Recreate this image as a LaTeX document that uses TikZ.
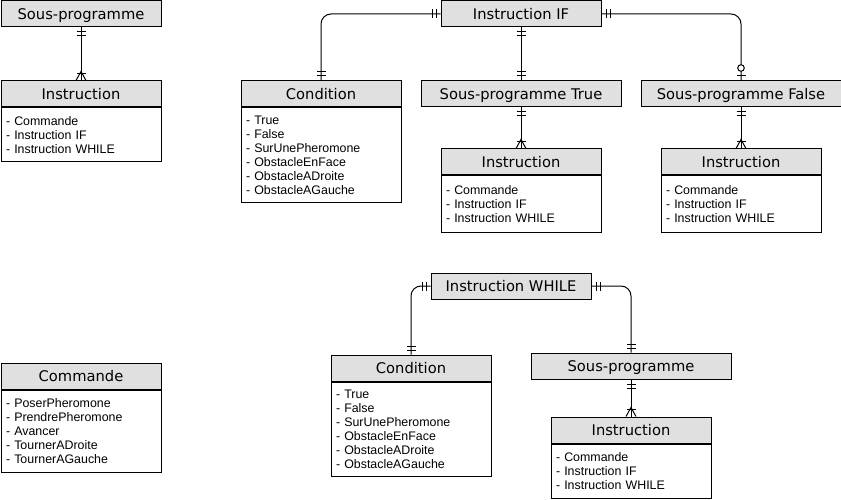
\documentclass[tikz,border=0pt]{standalone}
\usepackage{fontspec}
\setmainfont{Liberation Sans}
\newfontfamily\hdrfont{DejaVu Sans}
\usetikzlibrary{calc}
\definecolor{hdrgray}{HTML}{E0E0E0}
\newcommand\ERtwo[2]{%
 \draw[ermark] ($(#1)+(#2:4.5)+(#2+90:4.5)$) -- ($(#1)+(#2:4.5)+(#2-90:4.5)$);
 \draw[ermark] ($(#1)+(#2:8.5)+(#2+90:4.5)$) -- ($(#1)+(#2:8.5)+(#2-90:4.5)$);}
\newcommand\ERmany[2]{%
 \draw[ermark] ($(#1)+(#2+90:5)$) -- ($(#1)+(#2:9)$) -- ($(#1)+(#2-90:5)$);
 \draw[ermark] ($(#1)+(#2:7)+(#2+90:4.5)$) -- ($(#1)+(#2:7)+(#2-90:4.5)$);}
\newcommand\ERzo[2]{%
 \draw[ermark] ($(#1)+(#2:4.5)+(#2+90:4.5)$) -- ($(#1)+(#2:4.5)+(#2-90:4.5)$);
 \draw[ermark, fill=white] ($(#1)+(#2:12.5)$) circle[radius=3.3pt];}
\begin{document}
\begin{tikzpicture}[x=1pt,y=-1pt,
  hdr/.style={draw=black, line width=1pt, fill=hdrgray, minimum width=160pt, minimum height=26pt,
    anchor=north west, inner sep=0pt, text height=10.7pt, text depth=0pt,
    font=\hdrfont\fontsize{14.7}{17}\selectfont},
  wide/.style={minimum width=200pt},
  bodybox/.style={draw=black, line width=1pt, fill=white, anchor=north west, minimum width=160pt,
    text width=150pt, inner xsep=5pt, inner ysep=0pt, align=left,
    font=\fontsize{12.4}{14}\selectfont},
  conn/.style={line width=1pt},
  ermark/.style={line width=1pt}]
\useasboundingbox (0,0) rectangle (841,500);

% top-left
\node[hdr] (spA) at (0.5,0.5) {Sous-programme};
\node[hdr] (inA) at (0.5,80.5) {Instruction};
\node[bodybox, minimum height=54pt] (inAb) at (inA.south west) {- Commande\\- Instruction IF\\- Instruction WHILE};

% IF block
\node[hdr] (ifH) at (440.5,0.5) {Instruction IF};
\node[hdr] (cdA) at (240.5,80.5) {Condition};
\node[bodybox, minimum height=94pt] (cdAb) at (cdA.south west) {- True\\- False\\- SurUnePheromone\\- ObstacleEnFace\\- ObstacleADroite\\- ObstacleAGauche};
\node[hdr, wide] (spT) at (420.5,80.5) {Sous-programme True};
\node[hdr, wide] (spF) at (640.5,80.5) {Sous-programme False};
\node[hdr] (inT) at (440.5,148.5) {Instruction};
\node[bodybox, minimum height=56pt] (inTb) at (inT.south west) {- Commande\\- Instruction IF\\- Instruction WHILE};
\node[hdr] (inF) at (660.5,148.5) {Instruction};
\node[bodybox, minimum height=56pt] (inFb) at (inF.south west) {- Commande\\- Instruction IF\\- Instruction WHILE};

% WHILE block
\node[hdr] (whH) at (430.5,272.5) {Instruction WHILE};
\node[hdr] (cdB) at (330.5,354.5) {Condition};
\node[bodybox, minimum height=94pt] (cdBb) at (cdB.south west) {- True\\- False\\- SurUnePheromone\\- ObstacleEnFace\\- ObstacleADroite\\- ObstacleAGauche};
\node[hdr, wide] (spW) at (530.5,352.5) {Sous-programme};
\node[hdr] (inW) at (550.5,416.5) {Instruction};
\node[bodybox, minimum height=54pt] (inWb) at (inW.south west) {- Commande\\- Instruction IF\\- Instruction WHILE};

% Commande
\node[hdr] (cmd) at (0.5,362.5) {Commande};
\node[bodybox, minimum height=82pt] (cmdb) at (cmd.south west) {- PoserPheromone\\- PrendrePheromone\\- Avancer\\- TournerADroite\\- TournerAGauche};

% connectors
\draw[conn] (spA.south) -- (inA.north);
\ERtwo{spA.south}{90}
\ERmany{inA.north}{270}

\draw[conn, rounded corners=10pt] (ifH.west) -| (cdA.north);
\ERtwo{ifH.west}{180}
\ERtwo{cdA.north}{270}
\draw[conn] (ifH.south) -- (spT.north);
\ERtwo{ifH.south}{90}
\ERtwo{spT.north}{270}
\draw[conn, rounded corners=10pt] (ifH.east) -| (spF.north);
\ERtwo{ifH.east}{0}
\ERzo{spF.north}{270}
\draw[conn] (spT.south) -- (inT.north);
\ERtwo{spT.south}{90}
\ERmany{inT.north}{270}
\draw[conn] (spF.south) -- (inF.north);
\ERtwo{spF.south}{90}
\ERmany{inF.north}{270}

\draw[conn, rounded corners=10pt] (whH.west) -| (cdB.north);
\ERtwo{whH.west}{180}
\ERtwo{cdB.north}{270}
\draw[conn, rounded corners=10pt] (whH.east) -| (spW.north);
\ERtwo{whH.east}{0}
\ERtwo{spW.north}{270}
\draw[conn] (spW.south) -- (inW.north);
\ERtwo{spW.south}{90}
\ERmany{inW.north}{270}
\end{tikzpicture}
\end{document}
